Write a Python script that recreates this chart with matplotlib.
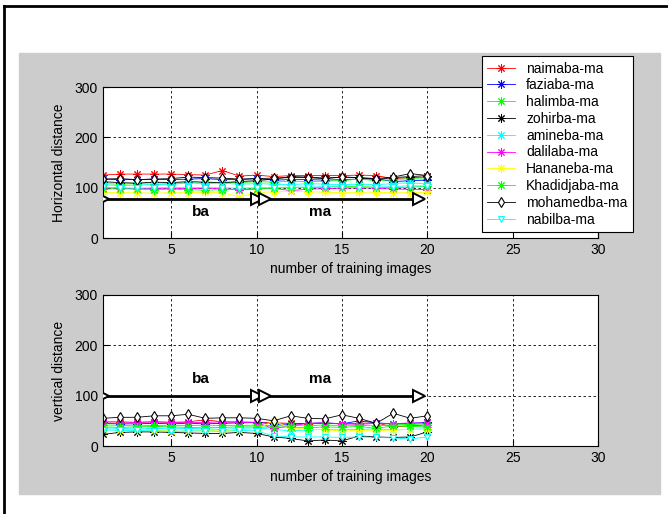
import matplotlib.pyplot as plt
from matplotlib.patches import Rectangle
from matplotlib.lines import Line2D

plt.rcParams['font.family'] = ['Liberation Sans', 'DejaVu Sans']

# so anh training 1..20
images = list(range(1, 21))

names = ['naimaba-ma', 'faziaba-ma', 'halimba-ma', 'zohirba-ma', 'amineba-ma',
         'dalilaba-ma', 'Hananeba-ma', 'Khadidjaba-ma', 'mohamedba-ma', 'nabilba-ma']

# horizontal distance (khung tren)
h_naima = [125, 127, 127, 127, 127, 126, 125, 134, 123, 125, 122, 124, 124, 124, 124, 125, 124, 118, 120, 121]
h_fazia = [117, 116, 116, 117, 116, 117, 118, 116, 116, 118, 115, 116, 116, 115, 116, 117, 118, 112, 114, 115]
h_halim = [108, 107, 108, 107, 108, 110, 109, 111, 110, 112, 111, 113, 112, 113, 114, 117, 114, 116, 118, 117]
h_zohir = [112, 110, 109, 111, 110, 112, 111, 110, 112, 114, 117, 122, 121, 119, 121, 120, 116, 120, 122, 124]
h_amine = [106, 104, 105, 106, 106, 110, 108, 109, 107, 108, 107, 106, 108, 107, 106, 107, 106, 108, 110, 107]
h_dalil = [100, 99, 98, 98, 99, 98, 99, 98, 96, 97, 99, 94, 97, 98, 99, 100, 99, 97, 97, 96]
h_hanan = [91, 90, 90, 89, 90, 90, 91, 90, 82, 90, 92, 93, 92, 91, 90, 91, 91, 90, 90, 91]
h_khadi = [97, 98, 97, 96, 97, 96, 95, 96, 97, 98, 99, 100, 100, 101, 102, 102, 101, 100, 101, 103]
h_moham = [117, 118, 116, 117, 118, 121, 120, 119, 117, 118, 119, 120, 120, 118, 121, 120, 118, 121, 128, 124]
h_nabil = [101, 100, 99, 100, 100, 101, 100, 100, 99, 100, 100, 101, 101, 102, 101, 100, 101, 102, 104, 103]

# vertical distance (khung duoi)
v_naima = [48, 48, 47, 48, 47, 48, 52, 48, 48, 47, 46, 45, 44, 45, 44, 45, 46, 38, 40, 42]
v_fazia = [45, 44, 44, 45, 44, 45, 44, 45, 46, 47, 44, 43, 45, 46, 44, 50, 46, 44, 45, 47]
v_halim = [42, 41, 40, 41, 40, 41, 40, 41, 40, 42, 40, 41, 40, 42, 40, 41, 40, 42, 43, 41]
v_zohir = [23, 27, 28, 28, 27, 26, 25, 25, 27, 25, 18, 15, 10, 12, 10, 20, 18, 17, 18, 28]
v_amine = [36, 35, 34, 35, 34, 35, 34, 33, 35, 36, 33, 30, 32, 33, 32, 33, 34, 32, 33, 34]
v_dalil = [46, 45, 47, 48, 47, 46, 47, 48, 47, 46, 35, 40, 45, 46, 44, 43, 45, 44, 46, 45]
v_hanan = [33, 32, 32, 31, 30, 29, 31, 30, 32, 33, 50, 35, 34, 32, 30, 31, 30, 32, 33, 32]
v_khadi = [38, 37, 38, 39, 38, 37, 36, 37, 38, 38, 37, 38, 36, 38, 37, 39, 35, 40, 39, 38]
v_moham = [55, 57, 57, 60, 60, 63, 55, 56, 56, 55, 50, 60, 55, 54, 62, 55, 45, 65, 55, 60]
v_nabil = [32, 31, 31, 30, 29, 30, 30, 29, 31, 30, 20, 18, 18, 18, 17, 18, 17, 16, 14, 18]

h_series = [h_naima, h_fazia, h_halim, h_zohir, h_amine, h_dalil, h_hanan, h_khadi, h_moham, h_nabil]
v_series = [v_naima, v_fazia, v_halim, v_zohir, v_amine, v_dalil, v_hanan, v_khadi, v_moham, v_nabil]

colors = ['#ff0000', '#0000ff', '#00ff00', '#000000', '#00ffff',
          '#ff00ff', '#ffff00', '#00ff00', '#000000', '#00ffff']
asterisk = (8, 2, 0)
markers = [asterisk] * 8 + ['d', 'v']

# mui ten ba / ma
ba_x = [1, 10]
ma_x = [10.5, 19.5]
h_arrow = 77
v_arrow = 100
h_text = 52
v_text = 134
ba_text_x = 6.2
ma_text_x = 13.1

fig = plt.figure(figsize=(6.68, 5.14), dpi=100)
W, H = 668, 514

# nen xam kieu MATLAB
fig.patches.append(Rectangle((19 / W, 1 - 494 / H), (660 - 19) / W, (494 - 53) / H,
                             transform=fig.transFigure, color='#cccccc', zorder=-5))
# khung den (tren, trai)
fig.lines.append(Line2D([4 / W, 1], [1 - 6 / H, 1 - 6 / H], transform=fig.transFigure,
                        color='black', lw=2))
fig.lines.append(Line2D([4 / W, 4 / W], [0, 1 - 6 / H], transform=fig.transFigure,
                        color='black', lw=2))

ax_h = fig.add_axes([102.7 / W, 1 - 238 / H, (598.3 - 102.7) / W, 151 / H])
ax_v = fig.add_axes([102.7 / W, 1 - 446 / H, (598.3 - 102.7) / W, 151 / H])


def draw_panel(ax, series, arrow_y, text_y, ylabel):
    handles = []
    for s, c, m, name in zip(series, colors, markers, names):
        if m == asterisk:
            ln, = ax.plot(images, s, color=c, lw=0.6, marker=m, ms=6, mew=0.7, label=name)
        else:
            ln, = ax.plot(images, s, color=c, lw=0.6, marker=m, ms=5, mew=0.8,
                          mfc='white', mec=c, label=name)
        handles.append(ln)
    for seg in (ba_x, ma_x):
        ax.plot(seg, [arrow_y, arrow_y], color='black', lw=2, marker='>', ms=9,
                mew=1.4, mfc='white', mec='black', zorder=5)
    ax.text(ba_text_x, text_y, 'ba', fontsize=11, fontweight='bold', va='center')
    ax.text(ma_text_x, text_y, 'ma', fontsize=11, fontweight='bold', va='center')
    ax.set_xlim(1, 30)
    ax.set_ylim(0, 300)
    ax.set_xticks([5, 10, 15, 20, 25, 30])
    ax.set_yticks([0, 100, 200, 300])
    ax.grid(True, color='black', linestyle=(0, (3, 3)), lw=0.6)
    ax.tick_params(direction='in', length=4, labelsize=10, colors='black')
    for sp in ax.spines.values():
        sp.set_linewidth(0.8)
    ax.set_xlabel('number of training images', fontsize=10, labelpad=4)
    ax.set_ylabel(ylabel, fontsize=10, labelpad=6)
    return handles


handles = draw_panel(ax_h, h_series, h_arrow, h_text, 'Horizontal distance')
draw_panel(ax_v, v_series, v_arrow, v_text, 'vertical distance')

leg = fig.legend(handles=handles, loc='upper left', bbox_to_anchor=(481.7 / W, 1 - 56 / H),
                 fontsize=10, fancybox=False, edgecolor='black', framealpha=1,
                 borderaxespad=0, handlelength=2.0, labelspacing=0.2, borderpad=0.4)
leg.get_frame().set_linewidth(0.8)

plt.savefig('out.png', dpi=100)
